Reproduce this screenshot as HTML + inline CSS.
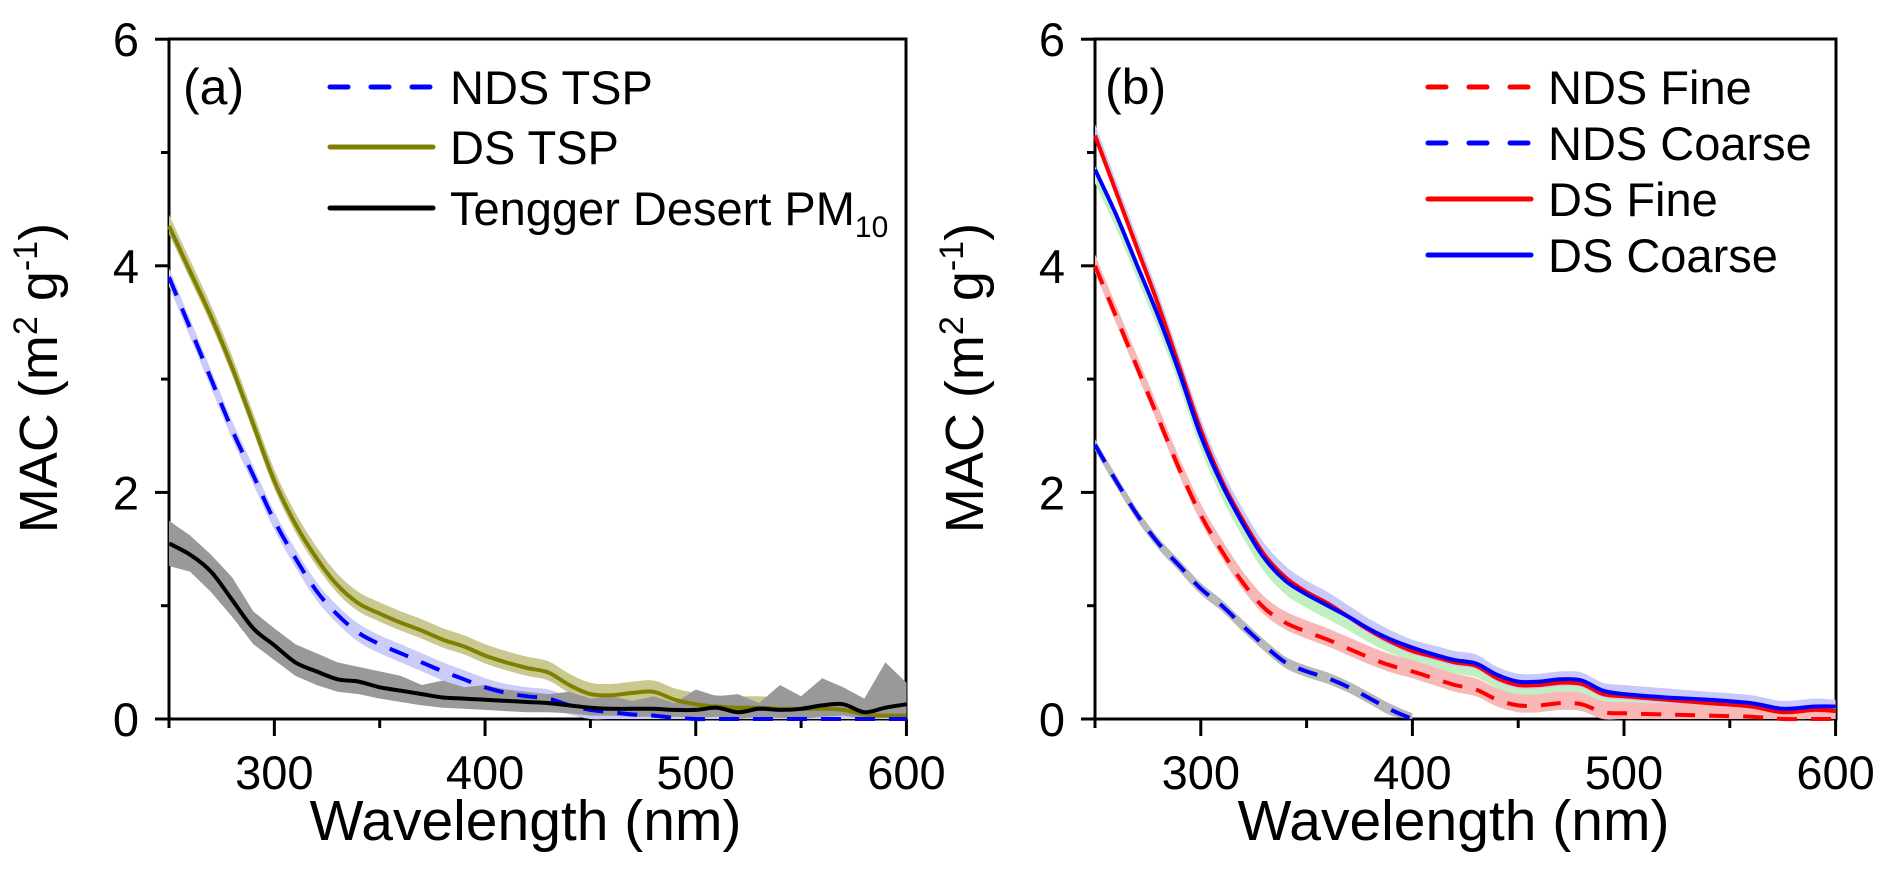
<!DOCTYPE html>
<html><head><meta charset="utf-8"><style>
html,body{margin:0;padding:0;background:#fff}
svg{display:block;font-family:"Liberation Sans",Arial,sans-serif}
</style></head><body>
<svg id="chart" width="1892" height="884" viewBox="0 0 1892 884" xmlns="http://www.w3.org/2000/svg"></svg>
<script>
// ---- data ----
const wlA = [250,260,270,280,290,300,310,320,330,340,350,360,370,380,390,400,410,420,430,440,450,460,470,480,490,500,510,520,530,540,550,560,570,580,590,600];
const dsTsp = [4.35,3.95,3.55,3.1,2.6,2.1,1.72,1.42,1.18,1.02,0.93,0.85,0.78,0.7,0.64,0.56,0.5,0.45,0.41,0.3,0.22,0.21,0.23,0.24,0.17,0.13,0.11,0.1,0.1,0.09,0.09,0.09,0.08,0.04,0.03,0.03];
const ndsTsp = [3.9,3.45,3.0,2.55,2.15,1.75,1.42,1.13,0.92,0.76,0.66,0.58,0.5,0.42,0.35,0.28,0.23,0.2,0.18,0.12,0.08,0.06,0.04,0.03,0.01,0,0,0,0,0,0,0,0,0,0,0];
const tengger = [1.55,1.45,1.3,1.05,0.8,0.65,0.5,0.42,0.35,0.33,0.28,0.25,0.22,0.19,0.18,0.17,0.16,0.15,0.14,0.12,0.1,0.09,0.09,0.09,0.08,0.08,0.1,0.06,0.09,0.08,0.09,0.12,0.13,0.06,0.1,0.13];
const tenggerHi = [1.75,1.62,1.45,1.25,0.95,0.8,0.66,0.58,0.5,0.46,0.42,0.38,0.3,0.34,0.28,0.3,0.26,0.24,0.22,0.24,0.18,0.2,0.16,0.2,0.14,0.26,0.2,0.22,0.14,0.3,0.2,0.36,0.28,0.18,0.5,0.32];
const tenggerLo = [1.35,1.3,1.12,0.9,0.66,0.52,0.38,0.3,0.24,0.22,0.18,0.15,0.12,0.1,0.09,0.08,0.07,0.06,0.06,0.05,0.03,0.03,0.02,0.02,0.02,0.01,0.02,0.0,0.02,0.01,0.0,0.02,0.03,0.0,0.01,0.02];
const wlB = [250,260,270,280,290,300,310,320,330,340,350,360,370,380,390,400,410,420,430,440,450,460,470,480,490,500,520,540,560,575,590,600];
const dsFine = [5.15,4.65,4.15,3.65,3.1,2.55,2.1,1.75,1.45,1.25,1.12,1.02,0.9,0.78,0.68,0.6,0.55,0.5,0.47,0.36,0.3,0.3,0.32,0.31,0.22,0.2,0.17,0.14,0.11,0.06,0.08,0.07];
const dsCoarse = [4.85,4.45,4.0,3.55,3.05,2.5,2.07,1.72,1.42,1.22,1.1,1.0,0.9,0.79,0.7,0.63,0.57,0.52,0.49,0.39,0.33,0.33,0.35,0.34,0.25,0.22,0.19,0.17,0.14,0.09,0.11,0.11];
const ndsFine = [4.0,3.55,3.1,2.65,2.2,1.8,1.48,1.2,0.98,0.85,0.77,0.7,0.62,0.54,0.47,0.42,0.36,0.3,0.26,0.17,0.12,0.12,0.14,0.13,0.06,0.05,0.04,0.03,0.02,0.0,0.0,0.0];
const wlC = [250,260,270,280,290,300,310,320,330,340,350,360,370,380,390,400];
const ndsCoarse = [2.42,2.1,1.8,1.55,1.35,1.15,1.0,0.82,0.65,0.5,0.42,0.36,0.28,0.18,0.08,0.0];
const xTicks = [300,400,500,600];
const yTicks = [0,2,4,6];

// ---- helpers ----
const NS="http://www.w3.org/2000/svg";
const svg=document.getElementById('chart');
function mk(tag,attrs,parent){const e=document.createElementNS(NS,tag);for(const k in attrs)e.setAttribute(k,attrs[k]);(parent||svg).appendChild(e);return e;}
const Y0=719, YU=113.3;
function yS(v){return Y0-v*YU;}
function xSA(w){return 169+(w-250)*2.107;}
function xSB(w){return 1095+(w-250)*2.116;}
function smooth(P,move){
  let d=move?'M'+P[0][0].toFixed(1)+','+P[0][1].toFixed(1):'L'+P[0][0].toFixed(1)+','+P[0][1].toFixed(1);
  for(let i=0;i<P.length-1;i++){
    const p0=P[Math.max(0,i-1)],p1=P[i],p2=P[i+1],p3=P[Math.min(P.length-1,i+2)];
    const c1x=p1[0]+(p2[0]-p0[0])/6,c1y=p1[1]+(p2[1]-p0[1])/6;
    const c2x=p2[0]-(p3[0]-p1[0])/6,c2y=p2[1]-(p3[1]-p1[1])/6;
    d+='C'+c1x.toFixed(1)+','+c1y.toFixed(1)+' '+c2x.toFixed(1)+','+c2y.toFixed(1)+' '+p2[0].toFixed(1)+','+p2[1].toFixed(1);
  }
  return d;
}
function P(xs,ys,xs_){return xs.map((w,i)=>[xs_(w),yS(ys[i])]);}
function off(arr,d){return arr.map(v=>Math.max(0,v+d));}

function axes(x0,x1,xs_,panel){
  const g=mk('g',{});
  
  
  mk('rect',{x:x0,y:39,width:x1-x0,height:Y0-39,fill:'none',stroke:'#000','stroke-width':3},g);
  for(let w=250;w<=600;w+=50){const major=w%100===0;mk('line',{x1:xs_(w),x2:xs_(w),y1:Y0,y2:Y0+(major?17:9),stroke:'#000','stroke-width':3},g);}
  for(let v=0;v<=6;v++){const major=v%2===0;mk('line',{x1:x0,x2:x0-(major?14:8),y1:yS(v),y2:yS(v),stroke:'#000','stroke-width':3},g);}
  xTicks.forEach(w=>{const t=mk('text',{x:xs_(w),y:789,'font-size':47,'text-anchor':'middle'},g);t.textContent=w;
    
    });
  yTicks.forEach(v=>{const t=mk('text',{x:x0-30,y:yS(v)+17,'font-size':47,'text-anchor':'end'},g);t.textContent=v;
    
    });
  const xt=mk('text',{x:(x0+x1)/2-12,y:840,'font-size':57,'text-anchor':'middle'},g);xt.textContent='Wavelength (nm)';
  
  
  const yx=x0-112;
  const yt=mk('text',{x:yx,y:378,'font-size':54,'text-anchor':'middle',transform:'rotate(-90 '+yx+' 378)'},g);
  yt.innerHTML='MAC (m<tspan dy="-20" font-size="34">2</tspan><tspan dy="20"> g</tspan><tspan dy="-20" font-size="34">-1</tspan><tspan dy="20">)</tspan>';
  
  
}
function line(xs,ys,xs_,color,dash,name,w){
  const p=mk('path',{d:smooth(P(xs,ys,xs_),true),fill:'none',stroke:color,'stroke-width':w||4,'stroke-dasharray':dash?'20 14':'none','stroke-linejoin':'round'});
  
  
}
function bandP(xs,lo,hi,xs_,color,name,sm){
  const top=P(xs,hi,xs_), bot=P(xs,lo,xs_).reverse();
  let d;
  if(sm===false){d='M'+top.concat(bot).map(p=>p[0].toFixed(1)+','+p[1].toFixed(1)).join(' L')+'Z';}
  else d=smooth(top,true)+smooth(bot,false)+'Z';
  const p=mk('path',{d:d,fill:color,stroke:'none'});
  
  
}
function legend(x,y,color,dash,label,name){
  const g=mk('g',{});
  
  
  mk('line',{x1:x,x2:x+103,y1:y,y2:y,stroke:color,'stroke-width':5,'stroke-dasharray':dash?'18 23':'none','stroke-linecap':'round'},g);
  const t=mk('text',{x:x+120,y:y+17,'font-size':47},g);t.innerHTML=label;
}

// ---- panel a ----
axes(169,906,xSA,'panel-a');
bandP(wlA,off(dsTsp,-0.07),off(dsTsp,0.1),xSA,'#c8c890','ds-tsp-band');
bandP(wlA,off(ndsTsp,-0.08),off(ndsTsp,0.08),xSA,'#ccccfa','nds-tsp-band');
bandP(wlA,tenggerLo,tenggerHi,xSA,'#999999','tengger-band',false);
line(wlA,dsTsp,xSA,'#808000',false,'ds-tsp-line');
line(wlA,ndsTsp,xSA,'#0000ff',true,'nds-tsp-line');
line(wlA,tengger,xSA,'#000000',false,'tengger-line');
const la=mk('text',{x:183,y:104,'font-size':50});la.textContent='(a)';


legend(330,87,'#0000ff',true,'NDS TSP','legend-nds-tsp');
legend(330,147,'#808000',false,'DS TSP','legend-ds-tsp');
legend(330,208,'#000000',false,'Tengger Desert PM<tspan dy="12" font-size="30">10</tspan>','legend-tengger');

// ---- panel b ----
axes(1095,1836,xSB,'panel-b');
bandP(wlB,off(dsCoarse,-0.12),off(dsCoarse,0.03),xSB,'#c0f0c0','ds-coarse-band-green');
bandP(wlB,off(dsFine,-0.03),off(dsFine,0.1),xSB,'#c8c8fa','ds-fine-band');
bandP(wlB,off(ndsFine,-0.06),off(ndsFine,0.1),xSB,'#f8b8b8','nds-fine-band');
bandP(wlC,off(ndsCoarse,-0.05),off(ndsCoarse,0.05),xSB,'#b8b8b8','nds-coarse-band');
line(wlB,ndsFine,xSB,'#ff0000',true,'nds-fine-line');
line(wlC,ndsCoarse,xSB,'#0000ff',true,'nds-coarse-line');
line(wlB,dsFine,xSB,'#ff0000',false,'ds-fine-line');
line(wlB,dsCoarse,xSB,'#0000ff',false,'ds-coarse-line');
const lb=mk('text',{x:1105,y:104,'font-size':50});lb.textContent='(b)';


legend(1428,87,'#ff0000',true,'NDS Fine','legend-nds-fine');
legend(1428,143,'#0000ff',true,'NDS Coarse','legend-nds-coarse');
legend(1428,199,'#ff0000',false,'DS Fine','legend-ds-fine');
legend(1428,255,'#0000ff',false,'DS Coarse','legend-ds-coarse');
</script>
</body></html>
